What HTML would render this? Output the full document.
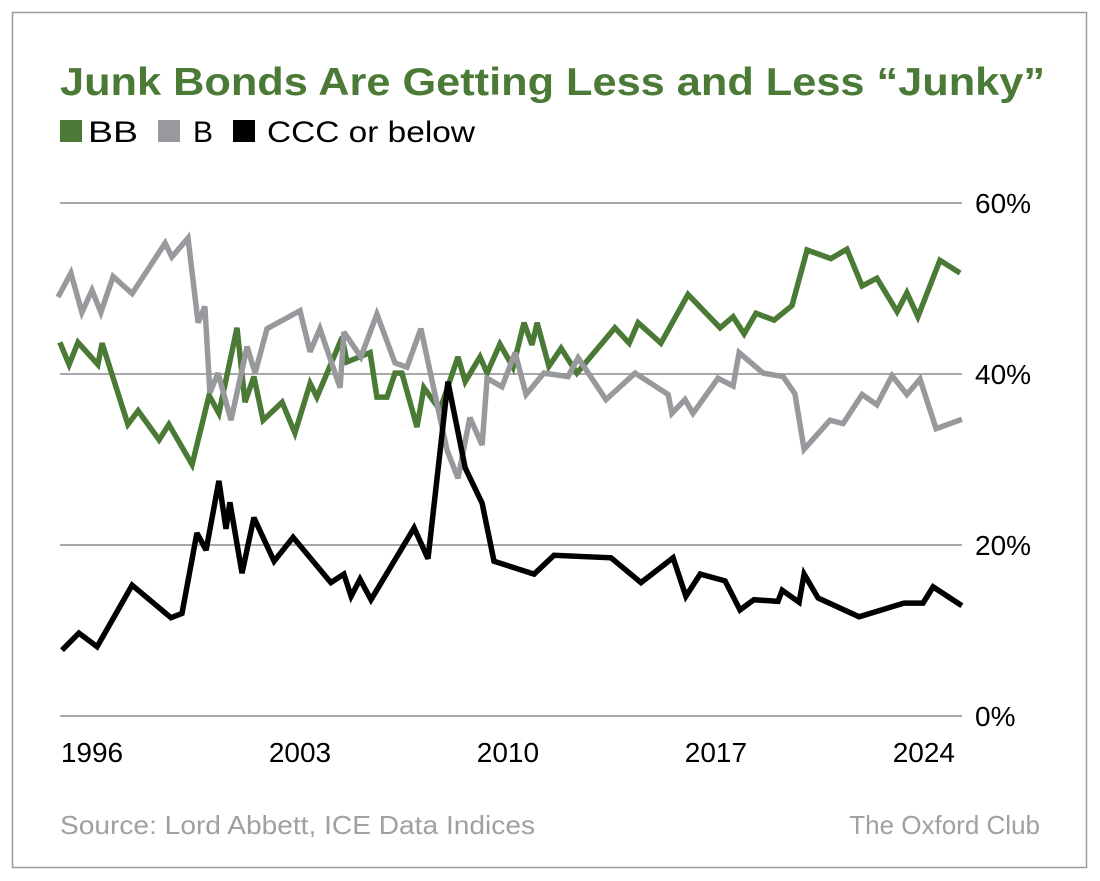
<!DOCTYPE html>
<html><head><meta charset="utf-8"><style>
body{margin:0;background:#fff;}
svg{display:block;font-family:"Liberation Sans",sans-serif;}
</style></head><body>
<svg id="chart" width="1100" height="881" viewBox="0 0 1100 881">
<rect x="12.5" y="12.5" width="1074" height="855" fill="#fff" stroke="#9a9a9a" stroke-width="1.5"/>
<text x="60" y="95" font-size="39" font-weight="bold" fill="#4a7a35" textLength="985" lengthAdjust="spacingAndGlyphs">Junk Bonds Are Getting Less and Less “Junky”</text>
<g>
<rect x="60" y="120" width="22" height="22" fill="#4a7a35"/>
<text x="88" y="142" font-size="30" fill="#000" textLength="50" lengthAdjust="spacingAndGlyphs">BB</text>
<rect x="158" y="120" width="22" height="22" fill="#98999d"/>
<text x="193" y="142" font-size="30" fill="#000">B</text>
<rect x="233" y="120" width="22" height="22" fill="#000"/>
<text x="267" y="142" font-size="30" fill="#000" textLength="208" lengthAdjust="spacingAndGlyphs">CCC or below</text>
</g>
<g id="grid"></g>
<g id="series"></g>
<g id="xaxis"></g>
<text x="60" y="834" font-size="26" fill="#a0a0a0" textLength="475" lengthAdjust="spacingAndGlyphs">Source: Lord Abbett, ICE Data Indices</text>
<text x="1040" y="834" font-size="26" fill="#a0a0a0" text-anchor="end">The Oxford Club</text>
</svg>
<script>
const yTicks=[0,20,40,60];
const yTickLabels=["0%","20%","40%","60%"];
const xTicks=[1996,2003,2010,2017,2024];
const xTickLabels=["1996","2003","2010","2017","2024"];
const bbYears=[1994.92,1995.23,1995.53,1996.2,1996.34,1997.21,1997.55,1998.26,1998.59,1999.37,1999.94,2000.27,2000.88,2001.15,2001.45,2001.76,2002.4,2002.83,2003.34,2003.57,2004.42,2004.58,2005.36,2005.59,2005.93,2006.2,2006.43,2006.94,2007.17,2007.71,2008.32,2008.56,2009.06,2009.3,2009.73,2010.17,2010.54,2010.81,2010.98,2011.38,2011.79,2012.32,2013.6,2014.08,2014.38,2015.15,2016.06,2017.14,2017.58,2017.95,2018.35,2018.96,2019.56,2020.07,2020.87,2021.41,2021.92,2022.42,2023.1,2023.43,2023.8,2024.54,2025.22];
const bbValues=[43.7,41.1,43.7,41.1,43.6,34.1,35.7,32.3,34.1,29.4,37.5,35.4,45.4,36.7,39.7,34.6,36.7,33.1,38.9,37.3,44.3,41.4,42.5,37.3,37.3,40.1,40.1,33.8,38.4,35.8,42.0,39.1,42.0,40.1,43.5,40.8,46.0,43.4,46.0,40.9,43.0,40.1,45.4,43.6,46.0,43.6,49.3,45.4,46.7,44.7,47.1,46.3,48.0,54.5,53.5,54.6,50.3,51.2,47.3,49.5,46.7,53.3,51.8];
const bYears=[1994.86,1995.29,1995.66,1996.0,1996.3,1996.71,1997.35,1998.46,1998.69,1999.23,1999.57,1999.8,1999.97,2000.24,2000.68,2001.22,2001.49,2001.89,2003.0,2003.34,2003.67,2004.35,2004.48,2005.05,2005.59,2006.2,2006.6,2007.07,2007.95,2008.32,2008.72,2009.13,2009.3,2009.8,2010.24,2010.61,2011.21,2012.02,2012.36,2013.3,2014.28,2015.39,2015.52,2015.96,2016.23,2017.07,2017.58,2017.78,2018.59,2019.26,2019.66,2019.97,2020.84,2021.28,2021.92,2022.42,2022.93,2023.43,2023.87,2024.41,2025.28];
const bValues=[49.0,51.8,47.2,49.8,47.2,51.4,49.4,55.3,53.7,55.9,46.0,47.9,37.8,40.1,34.6,43.2,40.1,45.3,47.4,42.6,45.3,38.4,44.9,42.0,47.0,41.3,40.8,45.3,31.1,27.8,34.9,31.7,39.5,38.5,42.5,37.6,40.1,39.7,41.9,37.0,40.1,37.6,35.4,37.0,35.4,39.5,38.6,42.5,40.1,39.7,37.7,31.2,34.6,34.2,37.6,36.4,39.8,37.6,39.4,33.6,34.7];
const cccYears=[1994.99,1995.56,1996.17,1997.35,1998.66,1999.03,1999.53,1999.84,2000.27,2000.51,2000.64,2001.05,2001.45,2002.13,2002.77,2004.04,2004.48,2004.72,2005.02,2005.39,2006.84,2007.31,2007.98,2008.56,2009.13,2009.53,2010.88,2011.55,2013.47,2014.48,2015.56,2015.99,2016.47,2017.31,2017.81,2018.28,2019.09,2019.23,2019.8,2019.97,2020.44,2021.82,2023.33,2023.97,2024.31,2025.28];
const cccValues=[7.7,9.7,8.1,15.3,11.5,12.0,21.4,19.4,27.5,21.9,25.0,16.7,23.2,18.1,20.9,15.6,16.6,14.0,16.0,13.6,22.0,18.4,39.1,29.0,24.9,18.1,16.6,18.8,18.5,15.6,18.5,14.0,16.6,15.8,12.4,13.6,13.4,14.7,13.3,16.6,13.8,11.6,13.2,13.2,15.1,12.9];

const NS="http://www.w3.org/2000/svg";
function xScale(yr){return 92+(yr-1996)*29.71;}
function yScale(v){return 716-v*8.55;}
const grid=document.getElementById('grid');
yTicks.forEach((t,i)=>{
  const l=document.createElementNS(NS,'line');
  l.setAttribute('x1',60);l.setAttribute('x2',962);
  l.setAttribute('y1',yScale(t));l.setAttribute('y2',yScale(t));
  l.setAttribute('stroke','#a8a8a8');l.setAttribute('stroke-width','2');
  
  
  grid.appendChild(l);
  const tx=document.createElementNS(NS,'text');
  tx.setAttribute('x',975);tx.setAttribute('y',yScale(t)+10);
  tx.setAttribute('font-size','28');tx.setAttribute('fill','#000');
  tx.textContent=yTickLabels[i];
  
  
  grid.appendChild(tx);
});
const xa=document.getElementById('xaxis');
xTicks.forEach((t,i)=>{
  const tx=document.createElementNS(NS,'text');
  tx.setAttribute('x',xScale(t));tx.setAttribute('y',762);
  tx.setAttribute('font-size','28');tx.setAttribute('text-anchor','middle');
  tx.textContent=xTickLabels[i];
  
  
  xa.appendChild(tx);
});
const ser=document.getElementById('series');
function draw(years,vals,color,name){
  const p=document.createElementNS(NS,'polyline');
  p.setAttribute('points',years.map((y,i)=>xScale(y).toFixed(1)+','+yScale(vals[i]).toFixed(1)).join(' '));
  p.setAttribute('fill','none');p.setAttribute('stroke',color);
  p.setAttribute('stroke-width','5.5');p.setAttribute('stroke-linejoin','miter');p.setAttribute('stroke-miterlimit','3');
  
  
  ser.appendChild(p);
}
draw(bbYears,bbValues,'#4a7a35','bb-line');
draw(bYears,bValues,'#98999d','b-line');
draw(cccYears,cccValues,'#000','ccc-line');
</script>
</body></html>
